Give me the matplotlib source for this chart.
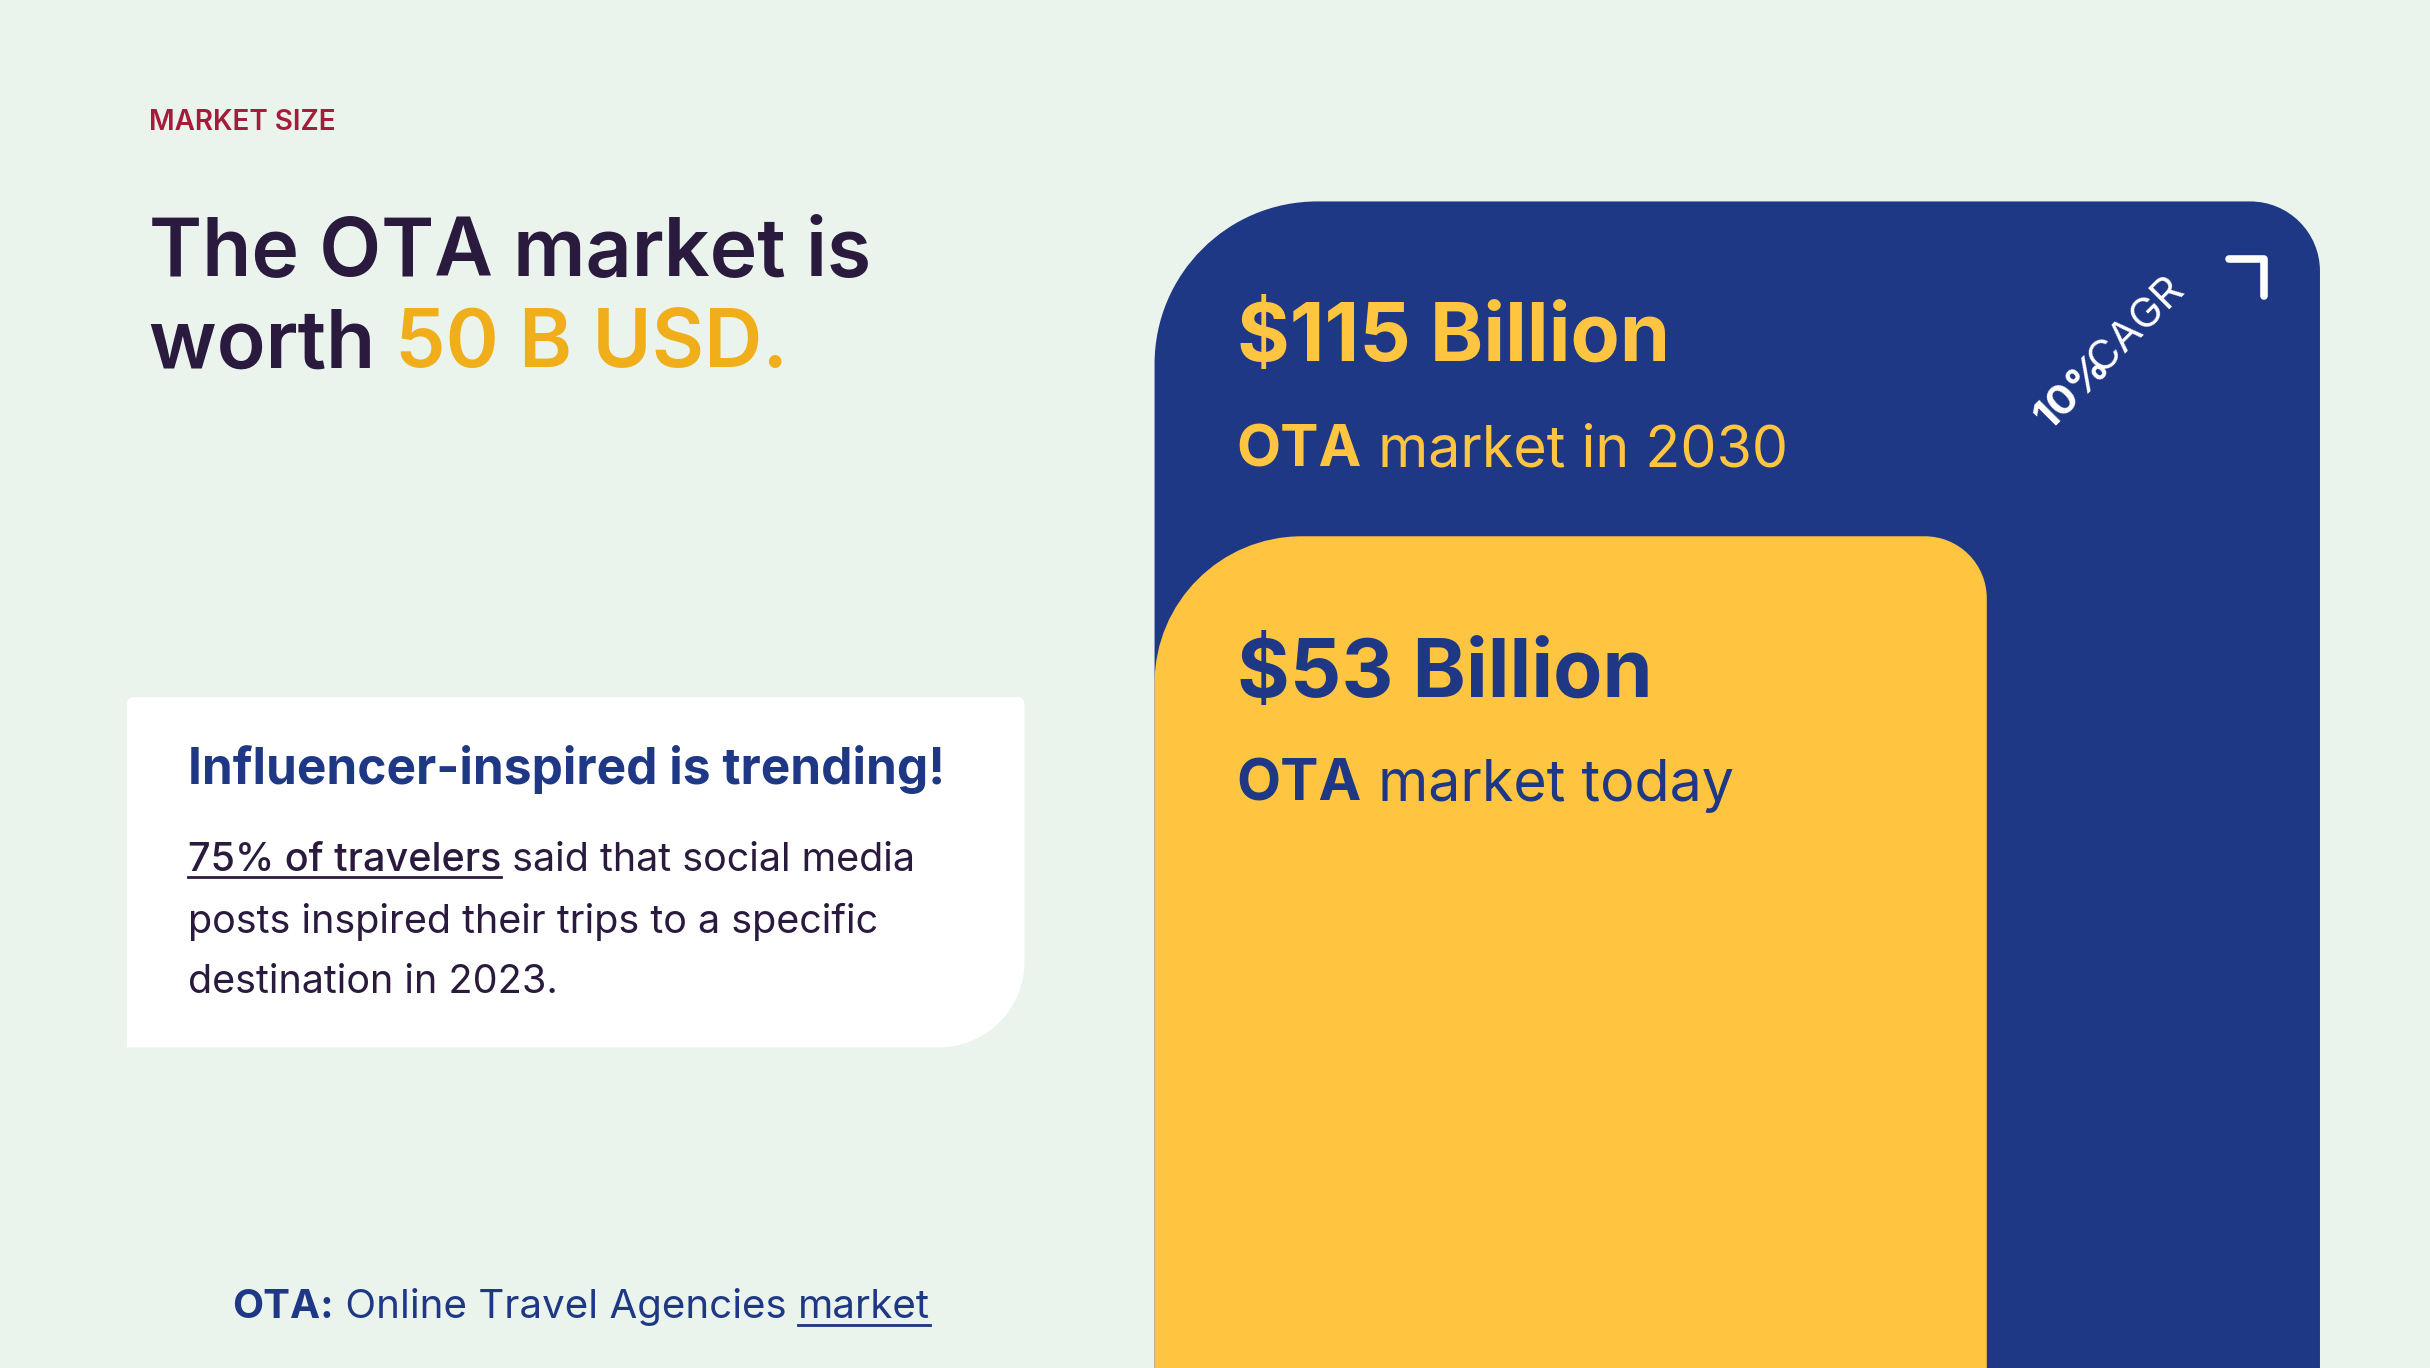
import matplotlib
matplotlib.use("Agg")
import matplotlib.pyplot as plt
from matplotlib.path import Path
from matplotlib.patches import PathPatch, FancyArrowPatch

# ---- data ----
categories = ["OTA market today", "OTA market in 2030"]
values = [53, 115]          # billion USD
value_labels = ["$53 Billion", "$115 Billion"]
cagr_label = "10% CAGR"

BG = "#EAF4EC"; BLUE = "#1F3886"; YEL = "#FFC540"; DARK = "#2A1A3E"
ORANGE = "#F0AE1A"; RED = "#A51C3A"; WHITE = "#FFFFFF"
FONT = "Inter"

W, H = 1568, 883
fig = plt.figure(figsize=(24.3, 13.68), dpi=100, facecolor=BG)
ax = fig.add_axes([0, 0, 1, 1]); ax.set_xlim(0, W); ax.set_ylim(H, 0); ax.axis("off")
ax.set_facecolor(BG)
S = 1568 / 2430 * 0  # unused
PT = 2430 / 1568 * 0.72  # ref px -> points

# value scale: y pixel of value
VMIN, SCALE = -101.0, 3.486
def yv(v): return H - (v - VMIN) * SCALE

def rrect(x0, y0, x1, y1, rtl, rtr, rbr, rbl, color):
    k = 0.5523
    v = [(x0 + rtl, y0), (x1 - rtr, y0)]
    c = [Path.MOVETO, Path.LINETO]
    def corner(p0, ctrl1, ctrl2, p1):
        v.extend([ctrl1, ctrl2, p1]); c.extend([Path.CURVE4]*3)
    if rtr: corner(None, (x1 - rtr + k*rtr, y0), (x1, y0 + rtr - k*rtr), (x1, y0 + rtr))
    v.append((x1, y1 - rbr)); c.append(Path.LINETO)
    if rbr: corner(None, (x1, y1 - rbr + k*rbr), (x1 - rbr + k*rbr, y1), (x1 - rbr, y1))
    v.append((x0 + rbl, y1)); c.append(Path.LINETO)
    if rbl: corner(None, (x0 + rbl - k*rbl, y1), (x0, y1 - rbl + k*rbl), (x0, y1 - rbl))
    v.append((x0, y0 + rtl)); c.append(Path.LINETO)
    if rtl: corner(None, (x0, y0 + rtl - k*rtl), (x0 + rtl - k*rtl, y0), (x0 + rtl, y0))
    c.append(Path.CLOSEPOLY); v.append(v[0])
    ax.add_patch(PathPatch(Path(v, c), facecolor=color, edgecolor="none"))

# bars
rrect(745, yv(values[1]), 1497, H + 5, 105, 45, 0, 0, BLUE)
rrect(745, yv(values[0]), 1282, H + 5, 95, 40, 0, 0, YEL)

fig.canvas.draw()
R = fig.canvas.get_renderer()

def runs(x, y, parts, size, va="baseline", underline=None):
    """parts: list of (text, weight, color, underline)"""
    for txt, wt, col, ul in parts:
        t = ax.text(x, y, txt, fontsize=size*PT, fontweight=wt, color=col,
                    family=FONT, va=va, ha="left")
        bb = t.get_window_extent(R).transformed(ax.transData.inverted())
        x1 = bb.x1
        if ul:
            ax.plot([x, x1 - (size*0.25 if txt.endswith(" ") else 0)], [y + size*0.17]*2,
                    color=col, lw=size*0.07*PT)
        x = x1
    return x

# left texts
runs(96, 84, [("MARKET SIZE", "semibold", RED, False)], 18)
runs(96, 178, [("The OTA market is", "semibold", DARK, False)], 52)
runs(96, 237, [("worth ", "semibold", DARK, False), ("50 B USD.", "semibold", ORANGE, False)], 52)

# card
rrect(82, 450, 661, 676, 4, 4, 55, 0, WHITE)
runs(121, 506, [("Influencer-inspired is trending!", "bold", BLUE, False)], 32)
runs(121, 562, [("75% of travelers", "medium", DARK, True), (" said that social media", "normal", DARK, False)], 25.5)
runs(121, 602, [("posts inspired their trips to a specific", "normal", DARK, False)], 25.5)
runs(121, 641, [("destination in 2023.", "normal", DARK, False)], 25.5)

# footer
runs(150, 851, [("OTA:", "bold", BLUE, False), (" Online Travel Agencies ", "normal", BLUE, False),
                ("market", "normal", BLUE, True)], 26)

# bar labels
runs(798, 233, [(value_labels[1], "bold", YEL, False)], 52)
runs(798, 301, [("OTA", "bold", YEL, False), (" market in 2030", "normal", YEL, False)], 37)
runs(798, 450, [(value_labels[0], "bold", BLUE, False)], 52)
runs(798, 517, [("OTA", "bold", BLUE, False), (" market today", "normal", BLUE, False)], 37)

# CAGR arrow
ax.add_patch(FancyArrowPatch((1297, 330), (1461, 167), arrowstyle="-|>,head_length=0,head_width=0",
                             color=WHITE, lw=3.5*PT*1.4, shrinkA=0, shrinkB=0))
ax.plot([1438, 1461, 1461], [167, 167, 191], color=WHITE, lw=3.5*PT*1.4, solid_capstyle="round")
t = ax.text(1353, 233, "", rotation=45, ha="center", va="center", fontsize=1)
ax.text(1322, 278, "10%", rotation=45, rotation_mode="anchor", ha="left", va="baseline",
        fontsize=27*PT, fontweight="bold", color=WHITE, family=FONT)
ax.text(1352, 248, " CAGR", rotation=45, rotation_mode="anchor", ha="left", va="baseline",
        fontsize=27*PT, fontweight="normal", color=WHITE, family=FONT)

fig.savefig("out.png", dpi=100, facecolor=BG)
